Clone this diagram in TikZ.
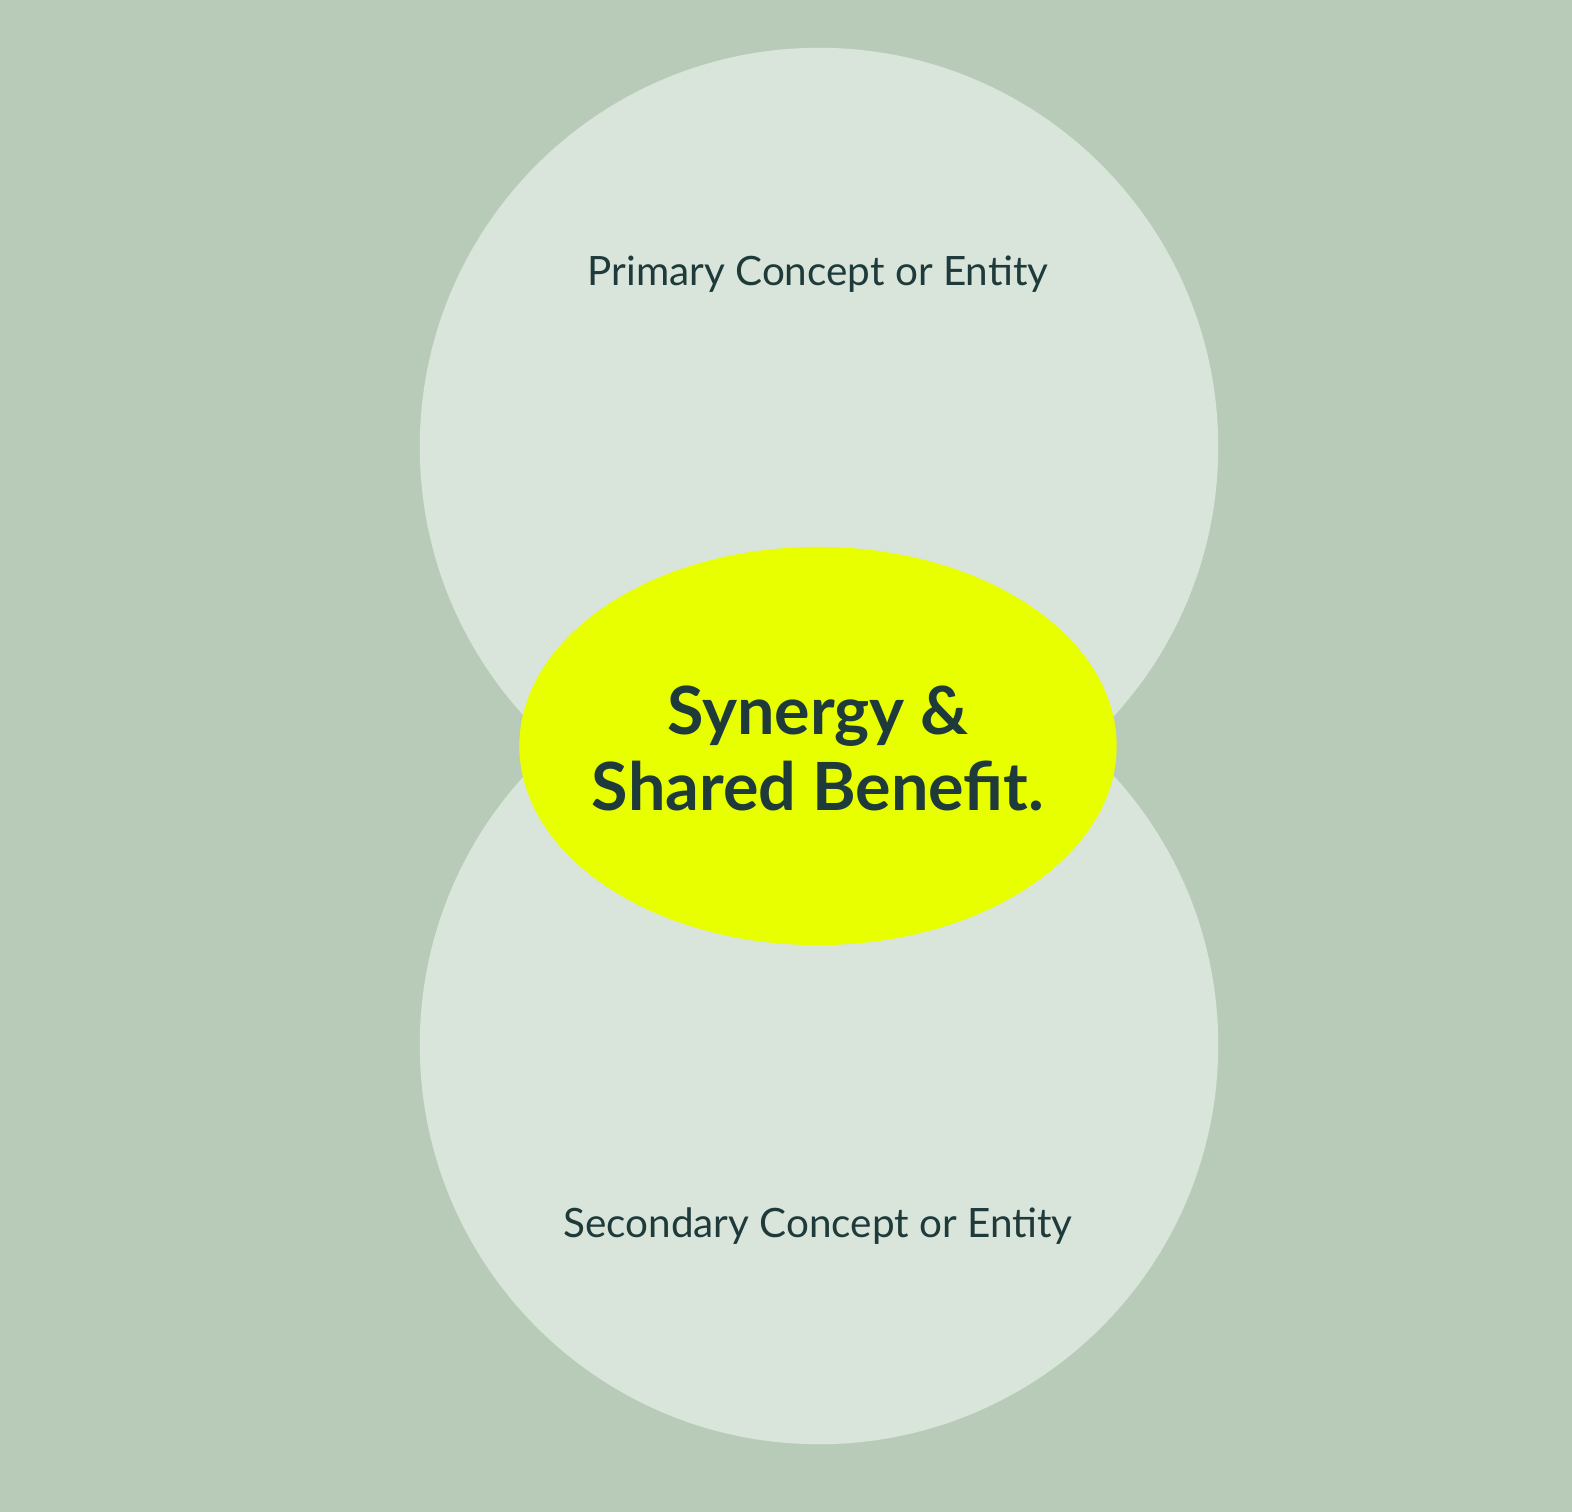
\documentclass[tikz,border=0pt]{standalone}
\usepackage{fontspec}
\setmainfont{Lato}
\usetikzlibrary{shapes.geometric}

\definecolor{sage}{HTML}{B8CBB8}
\definecolor{mist}{HTML}{D9E5DA}
\definecolor{lime}{HTML}{E8FF00}
\definecolor{ink}{HTML}{1E3A3A}

\tikzset{
    entity/.style={circle, fill=mist, minimum size=7.98cm, inner sep=0},
    label/.style={text=ink, font=\fontsize{11.5}{14}\selectfont},
}

\begin{document}
\begin{tikzpicture}[x=0.01cm, y=-0.01cm]
        \fill[sage] (0,0) rectangle (1572,1512);
        \useasboundingbox (0,0) rectangle (1572,1512);

        \node[entity] (primary) at (819,447) {};
        \node[entity] (secondary) at (819,1045) {};
        \node[ellipse, fill=lime, minimum width=5.97cm, minimum height=3.98cm, inner sep=0] (synergy) at (818,746) {};

        \node[label] (primarytext) at (818,274) {Primary Concept or Entity};
        \node[label] (secondarytext) at (818,1226) {Secondary Concept or Entity};
        \node[text=ink, align=center, font=\fontsize{18.9}{21.6}\selectfont\bfseries] (synergytext) at (818,748) {Synergy \&\\Shared Benefit.};
    \end{tikzpicture}
\end{document}
